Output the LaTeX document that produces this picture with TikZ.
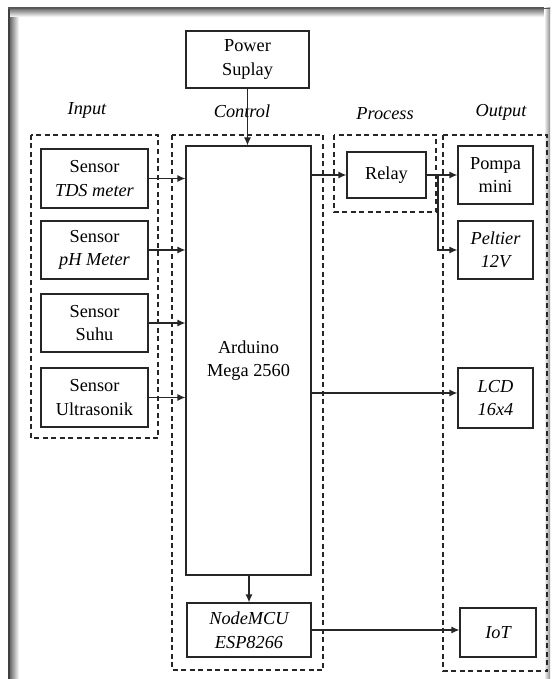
\documentclass[tikz,border=0pt]{standalone}
\usepackage{fontspec}
\setmainfont{Liberation Serif}
\usetikzlibrary{arrows.meta}
\begin{document}
\begin{tikzpicture}[x=1pt,y=-1pt,
  box/.style={draw=black!85, line width=1.2pt, inner sep=0pt, align=center,
    font=\fontsize{18.3}{23.5}\selectfont},
  grp/.style={draw=black!85, line width=1.3pt, dash pattern=on 5pt off 3.5pt},
  lbl/.style={font=\fontsize{18.3}{23.5}\selectfont\itshape},
  arr/.style={line width=1.2pt, draw=black!85, -{Latex[length=8pt,width=7pt]}},
  ln/.style={line width=1.2pt, draw=black!85}]
\useasboundingbox (0,0) rectangle (552,679);
% frame with shadow
\fill[white] (8,8) rectangle (550,679);
\shade[left color=black!70, right color=white] (8,8) rectangle (19,679);
\shade[top color=black!60, bottom color=white] (8,8) rectangle (550,17);
\shade[left color=white, right color=black!45] (544,8) rectangle (550,679);
\fill[black!75] (8,8) rectangle (10,679);
\fill[black!65] (8,8) rectangle (550,9.5);
% group frames
\draw[grp] (31,135) rectangle (158,438);
\draw[grp] (172,135) rectangle (323,670);
\draw[grp] (334,135) rectangle (436,212);
\draw[grp] (443,135) rectangle (547,671);
% labels
\node[lbl] (linput) at (87,110) {Input};
\node[lbl] (lcontrol) at (242,111) {Control};
\node[lbl] (lprocess) at (385,114) {Process};
\node[lbl] (loutput) at (501,112) {Output};
% boxes
\node[box, minimum width=123pt, minimum height=57pt] (power) at (247.5,59.5) {Power\\Suplay};
\node[box, minimum width=107pt, minimum height=59pt] (tds) at (94.5,178.5) {Sensor\\\textit{TDS meter}};
\node[box, minimum width=107pt, minimum height=58pt] (ph) at (94.5,250) {Sensor\\\textit{pH Meter}};
\node[box, minimum width=107pt, minimum height=58pt] (suhu) at (94.5,323) {Sensor\\Suhu};
\node[box, minimum width=107pt, minimum height=59pt] (ultra) at (94.5,397.5) {Sensor\\Ultrasonik};
\node[box, minimum width=125pt, minimum height=429pt] (ard) at (248.5,360.5) {Arduino\\Mega 2560};
\node[box, minimum width=124pt, minimum height=54pt] (mcu) at (249,630) {\itshape NodeMCU\\\itshape ESP8266};
\node[box, minimum width=79pt, minimum height=46pt] (relay) at (386.5,175) {Relay};
\node[box, minimum width=75pt, minimum height=58pt] (pompa) at (495.5,175) {Pompa\\mini};
\node[box, minimum width=75pt, minimum height=58pt] (peltier) at (495.5,250) {\itshape Peltier\\\itshape 12V};
\node[box, minimum width=75pt, minimum height=60pt] (lcd) at (495.5,398) {\itshape LCD\\\itshape 16x4};
\node[box, minimum width=76pt, minimum height=49pt] (iot) at (498,632.5) {\itshape IoT};
% connectors
\draw[arr] (power.south) -- (power.south |- ard.north);
\draw[arr] (tds.east) -- (tds.east -| ard.west);
\draw[arr] (ph.east) -- (ph.east -| ard.west);
\draw[arr] (suhu.east) -- (suhu.east -| ard.west);
\draw[arr] (ultra.east) -- (ultra.east -| ard.west);
\draw[arr] (relay.west -| ard.east) -- (relay.west);
\draw[arr] (relay.east) -- (pompa.west);
\coordinate (br) at (438,175);
\draw[arr] (br) |- (peltier.west);
\draw[arr] ([yshift=5pt]lcd.west -| ard.east) -- ([yshift=5pt]lcd.west);
\draw[arr] (ard.south -| mcu.north) -- (mcu.north);
\draw[arr] (mcu.east) -- (mcu.east -| iot.west);
\end{tikzpicture}
\end{document}
